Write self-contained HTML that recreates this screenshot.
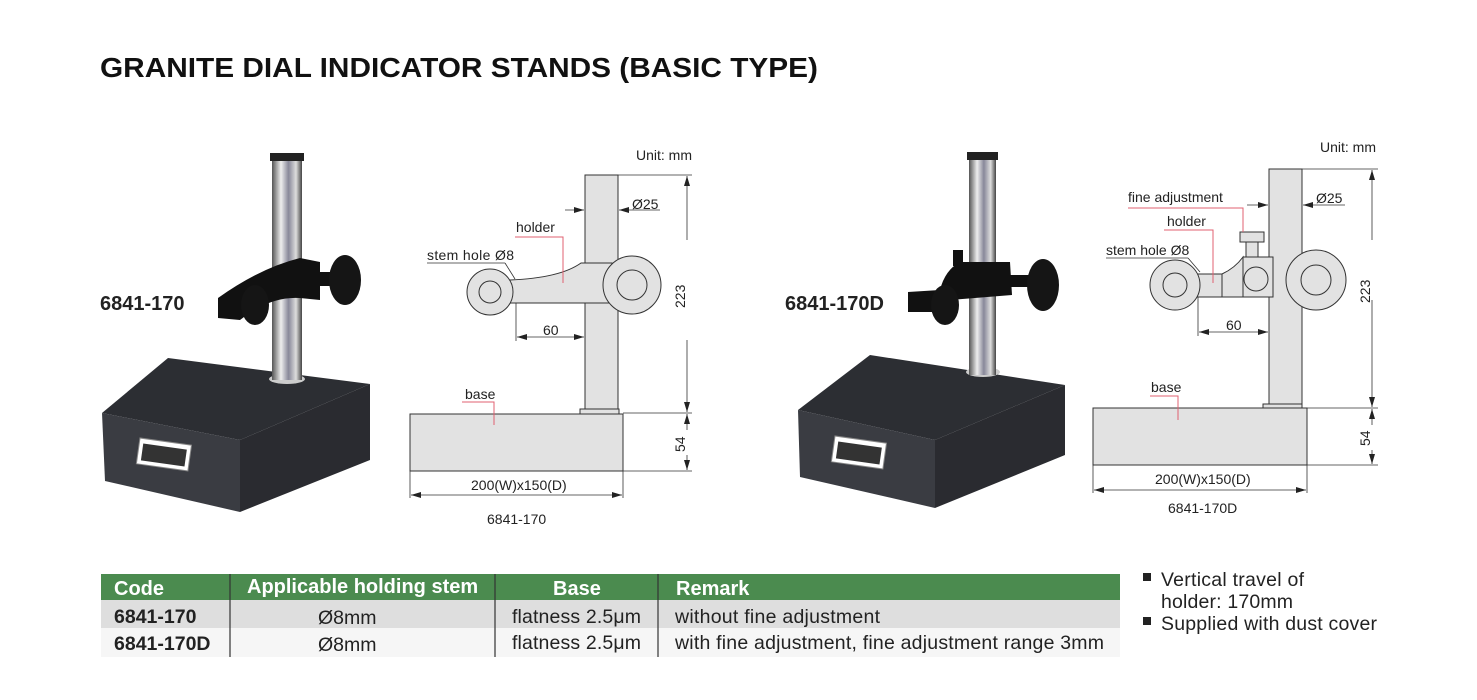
<!DOCTYPE html>
<html><head><meta charset="utf-8"><style>
html,body{margin:0;padding:0;background:#fff;width:1477px;height:700px;overflow:hidden}
svg{display:block}
text{font-family:"Liberation Sans",Arial,sans-serif}
</style></head><body>
<svg width="1477" height="700" viewBox="0 0 1477 700" xmlns="http://www.w3.org/2000/svg">
<defs>
<linearGradient id="col" x1="0" x2="1"><stop offset="0" stop-color="#555"/><stop offset=".3" stop-color="#eee"/><stop offset=".55" stop-color="#889"/><stop offset=".8" stop-color="#ddd"/><stop offset="1" stop-color="#444"/></linearGradient>
<marker id="ar" markerWidth="10" markerHeight="6" refX="10" refY="3" orient="auto" markerUnits="userSpaceOnUse"><path d="M0,0 L10,3 L0,6 z" fill="#222"/></marker>
</defs>
<text x="100" y="77" font-size="28" font-weight="bold" fill="#111" textLength="718" lengthAdjust="spacingAndGlyphs">GRANITE DIAL INDICATOR STANDS (BASIC TYPE)</text>

<!-- Photo 1 -->
<polygon points="102,413 168,358 370,384 240,440" fill="#2c2e33"/>
<polygon points="102,413 240,440 240,512 105,481" fill="#3a3c42"/>
<polygon points="240,440 370,384 370,460 240,512" fill="#2a2b30"/>
<rect x="140" y="438" width="52" height="26" fill="#fff" stroke="#888" transform="rotate(8 140 438)"/>
<rect x="144" y="443" width="44" height="17" fill="#333" transform="rotate(8 140 438)"/>
<ellipse cx="287" cy="379" rx="18" ry="5" fill="#ccc"/>
<rect x="272" y="157" width="30" height="223" fill="url(#col)"/>
<rect x="270" y="153" width="34" height="8" fill="#222"/>
<path d="M218,298 Q260,268 300,258 L320,262 L320,300 L300,298 Q270,296 240,320 L218,318 Z" fill="#111"/>
<rect x="300" y="272" width="30" height="14" fill="#111"/>
<ellipse cx="345" cy="280" rx="16" ry="25" fill="#151515"/>
<ellipse cx="255" cy="305" rx="14" ry="20" fill="#151515"/>
<text x="100" y="310" font-size="20" font-weight="bold" fill="#222">6841-170</text>

<!-- Photo 2 -->
<polygon points="798,410 870,355 1065,385 935,440" fill="#2c2e33"/>
<polygon points="798,410 935,440 935,508 800,477" fill="#3a3c42"/>
<polygon points="935,440 1065,385 1065,455 935,508" fill="#2a2b30"/>
<rect x="835" y="436" width="52" height="26" fill="#fff" stroke="#888" transform="rotate(8 835 436)"/>
<rect x="839" y="441" width="44" height="17" fill="#333" transform="rotate(8 835 436)"/>
<ellipse cx="983" cy="372" rx="17" ry="5" fill="#ccc"/>
<rect x="969" y="155" width="27" height="220" fill="url(#col)"/>
<rect x="967" y="152" width="31" height="8" fill="#222"/>
<path d="M908,292 L940,290 Q945,270 960,262 L1010,262 L1012,295 L950,300 L935,312 L908,312 Z" fill="#111"/>
<rect x="953" y="250" width="10" height="16" fill="#111"/>
<rect x="1000" y="275" width="30" height="12" fill="#111"/>
<ellipse cx="1043" cy="285" rx="16" ry="26" fill="#151515"/>
<ellipse cx="945" cy="305" rx="14" ry="20" fill="#151515"/>
<text x="785" y="310" font-size="20" font-weight="bold" fill="#222">6841-170D</text>

<!-- Diagram 1 -->
<g stroke="#333" stroke-width="1" fill="#e2e2e2">
<rect x="585" y="175" width="33" height="237"/>
<rect x="580" y="409" width="39" height="5"/>
<rect x="410" y="414" width="213" height="57"/>
<path d="M510,280 Q560,278 581,263 L612,263 L612,303 L505,303 Z"/>
<circle cx="490" cy="292" r="23"/>
<circle cx="490" cy="292" r="11" fill="none"/>
<circle cx="632" cy="285" r="29"/>
<circle cx="632" cy="285" r="15" fill="none"/>
</g>
<g stroke="#333" stroke-width="0.8" fill="none">
<line x1="618" y1="175" x2="692" y2="175"/><line x1="623" y1="413" x2="692" y2="413"/><line x1="623" y1="471" x2="692" y2="471"/>
<line x1="687" y1="240" x2="687" y2="176" marker-end="url(#ar)"/><line x1="687" y1="340" x2="687" y2="412" marker-end="url(#ar)"/>
<line x1="687" y1="430" x2="687" y2="414" marker-end="url(#ar)"/><line x1="687" y1="455" x2="687" y2="470" marker-end="url(#ar)"/>
<line x1="410" y1="471" x2="410" y2="498"/><line x1="623" y1="471" x2="623" y2="498"/>
<line x1="420" y1="495" x2="411" y2="495" marker-end="url(#ar)"/><line x1="600" y1="495" x2="622" y2="495" marker-end="url(#ar)"/><line x1="420" y1="495" x2="600" y2="495"/>
<line x1="565" y1="210" x2="584" y2="210" marker-end="url(#ar)"/><line x1="660" y1="210" x2="619" y2="210" marker-end="url(#ar)"/>
<line x1="516" y1="303" x2="516" y2="341"/>
<line x1="540" y1="337" x2="517" y2="337" marker-end="url(#ar)"/><line x1="540" y1="337" x2="584" y2="337" marker-end="url(#ar)"/>
<line x1="427" y1="263" x2="505" y2="263"/><line x1="505" y1="263" x2="515" y2="279"/>
</g>
<g stroke="#e06070" stroke-width="1" fill="none">
<polyline points="515,237 563,237 563,283"/><polyline points="462,402 494,402 494,425"/>
</g>
<g font-size="14" fill="#222">
<text x="636" y="160">Unit: mm</text><text x="632" y="209">Ø25</text>
<text x="516" y="232">holder</text><text x="427" y="260" textLength="87">stem hole Ø8</text>
<text x="543" y="335">60</text><text x="465" y="399">base</text>
<text x="471" y="490">200(W)x150(D)</text><text x="487" y="524">6841-170</text>
<text transform="translate(685,308) rotate(-90)">223</text>
<text transform="translate(685,452) rotate(-90)">54</text>
</g>

<!-- Diagram 2 -->
<g stroke="#333" stroke-width="1" fill="#e2e2e2">
<rect x="1269" y="169" width="33" height="239"/>
<rect x="1263" y="404" width="39" height="4"/>
<rect x="1093" y="408" width="214" height="57"/>
<rect x="1190" y="274" width="33" height="23"/>
<path d="M1222,274 Q1235,268 1243,257 L1243,297 L1222,297 Z"/>
<rect x="1243" y="257" width="30" height="40"/>
<circle cx="1256" cy="279" r="12"/>
<rect x="1246" y="242" width="12" height="15"/>
<rect x="1240" y="232" width="24" height="10"/>
<circle cx="1175" cy="285" r="25"/>
<circle cx="1175" cy="285" r="12" fill="none"/>
<circle cx="1316" cy="280" r="30"/>
<circle cx="1316" cy="280" r="15" fill="none"/>
</g>
<g stroke="#333" stroke-width="0.8" fill="none">
<line x1="1302" y1="169" x2="1378" y2="169"/><line x1="1307" y1="408" x2="1378" y2="408"/><line x1="1307" y1="465" x2="1378" y2="465"/>
<line x1="1372" y1="240" x2="1372" y2="170" marker-end="url(#ar)"/><line x1="1372" y1="300" x2="1372" y2="407" marker-end="url(#ar)"/>
<line x1="1372" y1="425" x2="1372" y2="409" marker-end="url(#ar)"/><line x1="1372" y1="450" x2="1372" y2="464" marker-end="url(#ar)"/>
<line x1="1093" y1="465" x2="1093" y2="493"/><line x1="1307" y1="465" x2="1307" y2="493"/>
<line x1="1200" y1="490" x2="1094" y2="490" marker-end="url(#ar)"/><line x1="1200" y1="490" x2="1306" y2="490" marker-end="url(#ar)"/>
<line x1="1247" y1="205" x2="1268" y2="205" marker-end="url(#ar)"/><line x1="1345" y1="205" x2="1303" y2="205" marker-end="url(#ar)"/>
<line x1="1198" y1="297" x2="1198" y2="336"/>
<line x1="1230" y1="332" x2="1199" y2="332" marker-end="url(#ar)"/><line x1="1230" y1="332" x2="1268" y2="332" marker-end="url(#ar)"/>
<line x1="1106" y1="258" x2="1188" y2="258"/><line x1="1188" y1="258" x2="1200" y2="272"/>
</g>
<g stroke="#e06070" stroke-width="1" fill="none">
<polyline points="1128,208 1243,208 1243,232"/><polyline points="1164,230 1213,230 1213,283"/><polyline points="1150,396 1178,396 1178,420"/>
</g>
<g font-size="14" fill="#222">
<text x="1320" y="152">Unit: mm</text><text x="1316" y="203">Ø25</text>
<text x="1128" y="202">fine adjustment</text><text x="1167" y="226">holder</text>
<text x="1106" y="255">stem hole Ø8</text><text x="1226" y="330">60</text>
<text x="1151" y="392">base</text><text x="1155" y="484">200(W)x150(D)</text>
<text x="1168" y="513">6841-170D</text>
<text transform="translate(1370,303) rotate(-90)">223</text>
<text transform="translate(1370,446) rotate(-90)">54</text>
</g>

<!-- Table -->
<rect x="101" y="574" width="1019" height="26" fill="#4b8b4f"/>
<rect x="101" y="600" width="1019" height="28" fill="#dedede"/>
<rect x="101" y="628" width="1019" height="29" fill="#f6f6f6"/>
<g stroke="#333" stroke-width="1.2">
<line x1="230" y1="574" x2="230" y2="657"/><line x1="495" y1="574" x2="495" y2="657"/><line x1="658" y1="574" x2="658" y2="657"/>
</g>
<g font-size="20" font-weight="bold" fill="#fff">
<text x="114" y="595">Code</text><text x="247" y="593">Applicable holding stem</text>
<text x="553" y="595">Base</text><text x="676" y="595">Remark</text>
</g>
<g font-size="19.5" fill="#222">
<text x="114" y="623" font-weight="bold">6841-170</text><text x="318" y="624">Ø8mm</text>
<text x="512" y="623" textLength="129">flatness 2.5μm</text><text x="675" y="623" textLength="205">without fine adjustment</text>
<text x="114" y="650" font-weight="bold">6841-170D</text><text x="318" y="651">Ø8mm</text>
<text x="512" y="649" textLength="129">flatness 2.5μm</text><text x="675" y="649" textLength="429">with fine adjustment, fine adjustment range 3mm</text>
</g>
<g font-size="19.5" fill="#222">
<rect x="1143" y="573" width="8" height="8" fill="#222"/><text x="1161" y="586" textLength="143">Vertical travel of</text>
<text x="1161" y="608" textLength="132">holder: 170mm</text>
<rect x="1143" y="617" width="8" height="8" fill="#222"/><text x="1161" y="630" textLength="216">Supplied with dust cover</text>
</g>
</svg>
</body></html>
